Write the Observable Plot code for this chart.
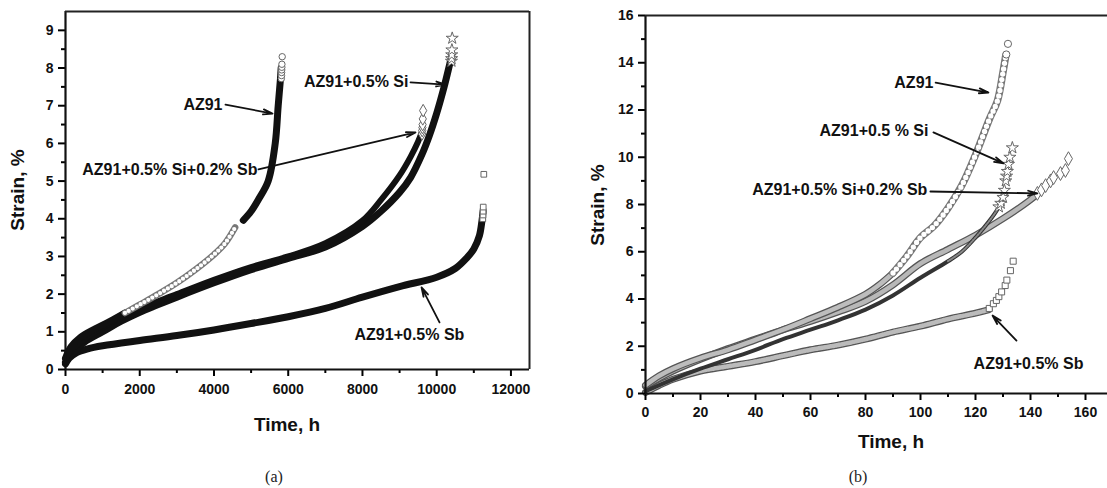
<!DOCTYPE html>
<html><head><meta charset="utf-8">
<script src="https://cdn.jsdelivr.net/npm/d3@7"></script>
<script src="https://cdn.jsdelivr.net/npm/@observablehq/plot@0.6"></script>
<style>
html,body{margin:0;padding:0;background:#fff;overflow:hidden;}
#root{position:relative;width:1107px;height:488px;overflow:hidden;font-family:"Liberation Sans",Arial,sans-serif;}
.panel{position:absolute;top:0;width:600px;}
.panel svg{max-width:none !important;height:auto;}
.lbl{position:absolute;font-weight:bold;white-space:nowrap;color:#111;transform:translate(-50%,-50%);font-size:19px;}
.rot{transform:translate(-50%,-50%) rotate(-90deg);}
.cap{position:absolute;font-family:"Liberation Serif","Times New Roman",serif;font-size:16px;color:#222;transform:translate(-50%,-50%);}
</style></head><body><div id="root"></div>
<script>
// ---------- Panel (a): strain (%) vs time (h) ----------
const a_az91_time   = [0,150,400,800,1200,1600,2000,2500,3000,3500,4000,4300,4570,4790,5000,5190,5460,5650,5730,5790,5810];
const a_az91_strain = [0.3,0.6,0.85,1.08,1.28,1.5,1.72,2.0,2.3,2.65,3.05,3.35,3.77,3.96,4.2,4.5,5.0,6.0,7.0,7.7,8.0];
const a_az91_tipT   = [5815,5820,5822,5825,5828,5830,5838];
const a_az91_tipS   = [7.72,7.8,7.88,7.95,8.02,8.1,8.3];

const a_si_time   = [0,200,500,1000,1500,2000,3000,4000,5000,6000,7000,8000,8500,9000,9300,9600,9800,10000,10200,10350,10400];
const a_si_strain = [0.2,0.45,0.72,1.0,1.28,1.52,1.92,2.3,2.65,2.95,3.25,3.8,4.2,4.7,5.1,5.7,6.2,6.8,7.5,8.1,8.3];
const a_si_tipT   = [10398,10402,10405,10410,10418];
const a_si_tipS   = [8.18,8.25,8.35,8.48,8.79];

const a_sisb_time   = [0,200,500,1000,1500,2000,3000,4000,5000,6000,7000,8000,8500,9000,9300,9500,9600];
const a_sisb_strain = [0.3,0.55,0.8,1.12,1.38,1.62,2.0,2.38,2.72,3.0,3.35,3.95,4.5,5.15,5.65,6.05,6.3];
const a_sisb_tipT   = [9605,9610,9615,9620,9625,9635];
const a_sisb_tipS   = [6.25,6.34,6.42,6.5,6.65,6.87];

const a_sb_time   = [0,100,300,600,1000,2000,3000,4000,5000,6000,7000,8000,9000,10000,10500,10800,11000,11150,11220,11250];
const a_sb_strain = [0.15,0.3,0.45,0.55,0.63,0.77,0.9,1.05,1.22,1.4,1.62,1.92,2.2,2.45,2.68,2.95,3.2,3.55,3.95,4.2];
const a_sb_tipT   = [11242,11248,11250,11253,11269];
const a_sb_tipS   = [4.0,4.1,4.2,4.31,5.18];

const a_xTicks = [0,2000,4000,6000,8000,10000,12000];
const a_xMinor = [1000,3000,5000,7000,9000,11000];
const a_yTicks = [0,1,2,3,4,5,6,7,8,9];
const a_yMinor = [0.5,1.5,2.5,3.5,4.5,5.5,6.5,7.5,8.5];

const a_ann_text = ["AZ91","AZ91+0.5% Si+0.2% Sb","AZ91+0.5% Si","AZ91+0.5% Sb"];
const a_ann_x = [4230,5172,9240,7786];
const a_ann_y = [7.03,5.31,7.62,0.93];
const a_ann_anchor = ["end","end","end","start"];
const a_arr_x1 = [4310,5199,9294,10076];
const a_arr_y1 = [7.03,5.31,7.62,1.25];
const a_arr_x2 = [5577,9429,10237,9591];
const a_arr_y2 = [6.79,6.29,7.56,2.18];

// ---------- Panel (b) ----------
const b_az91_time   = [0,5,10,20,30,40,50,60,70,80,85,90,95,100,105,110,115,120,125,128,130,131];
const b_az91_strain = [0.35,0.75,1.05,1.5,1.85,2.27,2.7,3.17,3.65,4.2,4.6,5.1,5.8,6.6,7.1,7.85,8.8,10.1,11.6,12.4,13.6,14.3];
const b_az91_tipT   = [131.2,131.8];
const b_az91_tipS   = [14.35,14.8];

const b_si_time   = [0,10,20,30,40,50,60,70,80,90,100,110,115,120,125,128,130];
const b_si_strain = [0.1,0.6,1.05,1.45,1.85,2.3,2.7,3.1,3.55,4.15,4.9,5.6,6.0,6.6,7.3,7.8,8.3];
const b_si_tipT   = [128.5,129.2,130,130.5,131,131.3,131.6,132,132.5,133.4];
const b_si_tipS   = [7.9,8.05,8.3,8.6,9.0,9.2,9.4,9.7,10.0,10.4];

const b_sisb_time   = [0,5,10,20,30,40,50,60,70,80,90,100,110,120,130,140,142.5];
const b_sisb_strain = [0.3,0.65,0.95,1.45,1.9,2.3,2.7,3.05,3.45,3.9,4.6,5.5,6.1,6.7,7.4,8.2,8.45];
const b_sisb_tipT   = [142.5,144,145.5,147.3,148.4,150.9,152.7,153.8];
const b_sisb_tipS   = [8.47,8.62,8.8,9.0,9.14,9.31,9.44,9.94];

const b_sb_time   = [0,5,10,20,30,40,50,60,70,80,90,100,110,120,125];
const b_sb_strain = [0.05,0.35,0.6,0.95,1.15,1.35,1.6,1.85,2.05,2.3,2.6,2.85,3.15,3.4,3.55];
const b_sb_tipT   = [125,126.5,127.6,128.5,129.5,130.8,131.4,132.7,133.7];
const b_sb_tipS   = [3.6,3.8,3.94,4.1,4.3,4.57,4.8,5.2,5.6];

const b_xTicks = [0,20,40,60,80,100,120,140,160];
const b_xMinor = [10,30,50,70,90,110,130,150];
const b_yTicks = [0,2,4,6,8,10,12,14,16];
const b_yMinor = [1,3,5,7,9,11,13,15];

const b_ann_text = ["AZ91","AZ91+0.5 % Si","AZ91+0.5% Si+0.2% Sb","AZ91+0.5% Sb"];
const b_ann_x = [104.7,102.9,102.5,119.3];
const b_ann_y = [13.16,11.13,8.63,1.27];
const b_ann_anchor = ["end","end","end","start"];
const b_arr_x1 = [105.5,104.7,103.6,134.9];
const b_arr_y1 = [13.16,11.05,8.55,2.24];
const b_arr_x2 = [124.7,130.2,142.5,126.2];
const b_arr_y2 = [12.74,9.74,8.47,3.30];

// ---------- helpers ----------
const rows = (t, s) => t.map((v, i) => ({t: v, s: s[i]}));
const seg = (r, a, b) => r.filter(d => d.t >= a && d.t <= b);
const anns = (txt, x, y, an) => txt.map((v, i) => ({text: v, x: x[i], y: y[i], anchor: an[i]}));
const arrs = (x1, y1, x2, y2) => x1.map((v, i) => ({x1: v, y1: y1[i], x2: x2[i], y2: y2[i]}));
const curve = "catmull-rom";
const font = "'Liberation Sans', Arial, sans-serif";
const fmt = d => String(d);

function axes(xT, xM, yT, yM, xMax, yMax, xdy) {
  const lab = {fontSize: 14, fontWeight: "bold", fill: "#111", text: fmt};
  return [
    Plot.axisX({label: null, ticks: xT, tickSize: 7, tickFormat: () => "", strokeWidth: 2}),
    Plot.axisX({label: null, ticks: xM, tickSize: 4, tickFormat: () => "", strokeWidth: 2}),
    Plot.axisY({label: null, ticks: yT, tickSize: 7, tickFormat: () => "", strokeWidth: 2}),
    Plot.axisY({label: null, ticks: yM, tickSize: 4, tickFormat: () => "", strokeWidth: 2}),
    Plot.text(xT, {...lab, x: d => d, frameAnchor: "bottom", lineAnchor: "top", dy: xdy}),
    Plot.text(yT, {...lab, y: d => d, frameAnchor: "left", textAnchor: "end", dx: -12}),
    Plot.ruleX([0], {strokeWidth: 2.2, stroke: "#111"}),
    Plot.ruleY([0], {strokeWidth: 2.2, stroke: "#111"}),
    Plot.ruleX([xMax], {strokeWidth: 2, stroke: "#222"}),
    Plot.ruleY([yMax], {strokeWidth: 2, stroke: "#222"})
  ];
}
function annotate(A, R) {
  const t = {x: "x", y: "y", text: "text", fontSize: 16, fontWeight: "bold", fill: "#111"};
  return [
    Plot.arrow(R, {x1: "x1", y1: "y1", x2: "x2", y2: "y2", stroke: "#111", strokeWidth: 1.8, headLength: 8, headAngle: 30}),
    Plot.text(A.filter(d => d.anchor === "end"), {...t, textAnchor: "end"}),
    Plot.text(A.filter(d => d.anchor === "start"), {...t, textAnchor: "start"})
  ];
}
const band = (r, o = {}) => Plot.line(r, {x: "t", y: "s", stroke: "#111", strokeWidth: 7, curve, ...o});
// chain of hollow markers: grey tube with round white holes
const chain = (r, w, gap, col) => [
  band(r, {stroke: col, strokeWidth: w}),
  band(r, {stroke: "white", strokeWidth: w - 2.2, strokeDasharray: "0," + gap, strokeLinecap: "round"})
];

// ---------- Panel (a) ----------
const A = {
  az91: rows(a_az91_time, a_az91_strain), az91Tip: rows(a_az91_tipT, a_az91_tipS),
  si: rows(a_si_time, a_si_strain), siTip: rows(a_si_tipT, a_si_tipS),
  sisb: rows(a_sisb_time, a_sisb_strain), sisbTip: rows(a_sisb_tipT, a_sisb_tipS),
  sb: rows(a_sb_time, a_sb_strain), sbTip: rows(a_sb_tipT, a_sb_tipS)
};
const plotA = Plot.plot({
  width: 560, height: 400,
  marginLeft: 65, marginRight: 31, marginTop: 11, marginBottom: 31,
  x: {domain: [0, 12500]}, y: {domain: [0, 9.5]},
  style: {fontFamily: font, background: "white", overflow: "visible"},
  marks: [
    band(A.sb),
    band(A.si),
    band(A.sisb, {strokeWidth: 6}),
    band(seg(A.az91, 0, 1600)),
    ...chain(seg(A.az91, 1600, 4570), 6.5, 4.5, "#777"),
    band(seg(A.az91, 4790, 5810)),
    Plot.dot(A.az91Tip, {x: "t", y: "s", symbol: "circle", r: 3.2, stroke: "#666", fill: "white", strokeWidth: 1}),
    Plot.dot(A.siTip, {x: "t", y: "s", symbol: "star", r: 3.8, stroke: "#666", fill: "white", strokeWidth: 1}),
    Plot.dot(A.sisbTip, {x: "t", y: "s", symbol: "diamond", r: 3.8, stroke: "#666", fill: "white", strokeWidth: 1}),
    Plot.dot(A.sbTip, {x: "t", y: "s", symbol: "square", r: 3.2, stroke: "#666", fill: "white", strokeWidth: 1}),
    ...axes(a_xTicks, a_xMinor, a_yTicks, a_yMinor, 12500, 9.5, 15),
    ...annotate(anns(a_ann_text, a_ann_x, a_ann_y, a_ann_anchor), arrs(a_arr_x1, a_arr_y1, a_arr_x2, a_arr_y2))
  ]
});

// ---------- Panel (b) ----------
const B = {
  az91: rows(b_az91_time, b_az91_strain), az91Tip: rows(b_az91_tipT, b_az91_tipS),
  si: rows(b_si_time, b_si_strain), siTip: rows(b_si_tipT, b_si_tipS),
  sisb: rows(b_sisb_time, b_sisb_strain), sisbTip: rows(b_sisb_tipT, b_sisb_tipS),
  sb: rows(b_sb_time, b_sb_strain), sbTip: rows(b_sb_tipT, b_sb_tipS)
};
const plotB = Plot.plot({
  width: 563, height: 423,
  marginLeft: 85, marginRight: 10.5, marginTop: 15, marginBottom: 30,
  x: {domain: [0, 170]}, y: {domain: [0, 16]},
  style: {fontFamily: font, background: "white", overflow: "visible"},
  marks: [
    // AZ91+0.5% Sb: hatched grey band
    band(B.sb, {stroke: "#555", strokeWidth: 7}),
    band(B.sb, {stroke: "#bbb", strokeWidth: 4.5, strokeDasharray: "1.2,1.2"}),
    // AZ91+0.5% Si+0.2% Sb: grey band
    band(B.sisb, {stroke: "#555", strokeWidth: 7}),
    band(B.sisb, {stroke: "#b8b8b8", strokeWidth: 4.5}),
    // AZ91+0.5% Si: dark thin band
    band(B.si, {stroke: "#333", strokeWidth: 4}),
    band(seg(B.si, 110, 130), {stroke: "#888", strokeWidth: 2, strokeDasharray: "1,1.5"}),
    // AZ91: grey band then chain of open circles
    band(seg(B.az91, 0, 90), {stroke: "#555", strokeWidth: 7}),
    band(seg(B.az91, 0, 90), {stroke: "#bdbdbd", strokeWidth: 4.5}),
    ...chain(seg(B.az91, 90, 131), 7.5, 5.5, "#777"),
    Plot.dot(B.az91Tip, {x: "t", y: "s", symbol: "circle", r: 3.6, stroke: "#666", fill: "white", strokeWidth: 1}),
    Plot.dot(B.siTip, {x: "t", y: "s", symbol: "star", r: 3.8, stroke: "#666", fill: "white", strokeWidth: 1}),
    Plot.dot(B.sisbTip, {x: "t", y: "s", symbol: "diamond", r: 4.2, stroke: "#666", fill: "white", strokeWidth: 1}),
    Plot.dot(B.sbTip, {x: "t", y: "s", symbol: "square", r: 3.4, stroke: "#666", fill: "white", strokeWidth: 1}),
    ...axes(b_xTicks, b_xMinor, b_yTicks, b_yMinor, 170, 16, 14),
    ...annotate(anns(b_ann_text, b_ann_x, b_ann_y, b_ann_anchor), arrs(b_arr_x1, b_arr_y1, b_arr_x2, b_arr_y2))
  ]
});

// ---------- layout ----------
const root = document.getElementById("root");
function place(el, left, top) {
  const d = document.createElement("div");
  d.className = "panel"; d.style.left = left + "px"; d.style.top = top + "px";
  d.appendChild(el); root.appendChild(d);
}
place(plotA, 0, 0);
place(plotB, 560, 0);
function label(text, x, y, cls) {
  const d = document.createElement("div");
  d.className = cls; d.textContent = text;
  d.style.left = x + "px"; d.style.top = y + "px";
  root.appendChild(d);
}
label("Strain, %", 18, 190, "lbl rot");
label("Time, h", 287, 425, "lbl");
label("Strain, %", 598, 205, "lbl rot");
label("Time, h", 891, 442, "lbl");
label("(a)", 274, 477, "cap");
label("(b)", 858, 477, "cap");
</script></body></html>
